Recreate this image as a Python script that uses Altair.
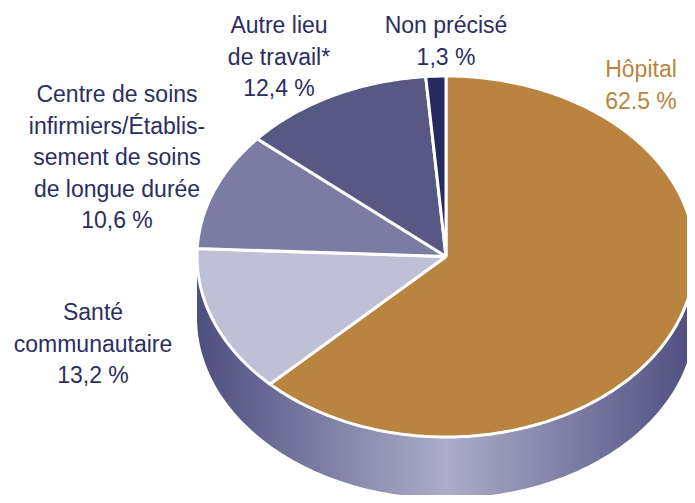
import numpy as np
import pandas as pd
import altair as alt

# ---- data ----
categories = [
    "Hôpital",
    "Santé communautaire",
    "Centre de soins infirmiers/Établissement de soins de longue durée",
    "Autre lieu de travail*",
    "Non précisé",
]
values = [62.5, 13.2, 10.6, 12.4, 1.3]
label_texts = [
    "Hôpital\n62.5 %",
    "Santé\ncommunautaire\n13,2 %",
    "Centre de soins\ninfirmiers/Établis-\nsement de soins\nde longue durée\n10,6 %",
    "Autre lieu\nde travail*\n12,4 %",
    "Non précisé\n1,3 %",
]

# ---- styles / layout ----
slice_colors = ["#B8843F", "#BFBFD6", "#7B7CA3", "#575883", "#262A5E"]
label_colors = ["#B8843F", "#2B2E5F", "#2B2E5F", "#2B2E5F", "#2B2E5F"]
label_x_px = [641, 93, 117, 279, 446]
label_y_px = [77, 320, 102, 33, 33]

CX, CY, RX, RY, DEPTH = 446.0, 256.5, 249.0, 180.5, 61.0
M, W, H = 8, 679, 487

x_dom = [(M - CX) / RX, (M + W - CX) / RX]
y_dom = [(CY - (M + H)) / RY, (CY - M) / RY]

# ---- slice polygons (unit circle; scales turn it into an ellipse) ----
rows = []
cum = 0.0
for cat, v in zip(categories, values):
    p0 = cum / 100 * 2 * np.pi
    p1 = (cum + v) / 100 * 2 * np.pi
    cum += v
    n = max(3, int(v * 4))
    pts = [(0.0, 0.0)] + [(np.sin(p), np.cos(p)) for p in np.linspace(p0, p1, n)] + [(0.0, 0.0)]
    for i, (u, w) in enumerate(pts):
        rows.append({"cat": cat, "i": i, "u": u, "w": w})
slices_df = pd.DataFrame(rows)

# ---- side band (front half of the extrusion) ----
d = DEPTH / RY
t = np.linspace(np.pi, 2 * np.pi, 200)
su = list(np.cos(t)) + list(np.cos(t[::-1]))
sw = list(np.sin(t)) + list(np.sin(t[::-1]) - d)
side_df = pd.DataFrame({"u": su, "w": sw, "i": range(len(su))})

# ---- labels ----
lbl_df = pd.DataFrame({
    "text": label_texts,
    "u": [(x - CX) / RX for x in label_x_px],
    "w": [(CY - y) / RY for y in label_y_px],
    "tc": label_colors,
})

xs = alt.X("u:Q", scale=alt.Scale(domain=x_dom, nice=False, zero=False), axis=None)
ys = alt.Y("w:Q", scale=alt.Scale(domain=y_dom, nice=False, zero=False), axis=None)

gradient = {
    "gradient": "linear",
    "x1": 0, "y1": 0, "x2": 1, "y2": 0,
    "stops": [
        {"offset": 0.0, "color": "#4E4F80"},
        {"offset": 0.5, "color": "#ACACC9"},
        {"offset": 1.0, "color": "#4E4F80"},
    ],
}

side = alt.Chart(side_df).mark_line(fill=gradient, strokeWidth=0).encode(
    x=xs, y=ys, order=alt.Order("i:Q")
)

slices = alt.Chart(slices_df).mark_line(
    stroke="white", strokeWidth=3, strokeJoin="miter"
).encode(
    x=xs, y=ys,
    fill=alt.Fill("cat:N", scale=alt.Scale(domain=categories, range=slice_colors), legend=None),
    detail="cat:N",
    order=alt.Order("i:Q"),
)

labels = alt.Chart(lbl_df).mark_text(
    align="center", baseline="alphabetic", fontSize=23,
    font="Liberation Sans, Arial, sans-serif",
    lineBreak="\n", lineHeight=31.5,
).encode(
    x=xs, y=ys, text="text:N", color=alt.Color("tc:N", scale=None)
)

chart = alt.layer(side, slices, labels).properties(
    width=W, height=H, autosize=alt.AutoSizeParams(type="none"), padding=0
).configure_view(strokeWidth=0)

chart.save("out.html", embed_options={"renderer": "svg", "actions": False})
